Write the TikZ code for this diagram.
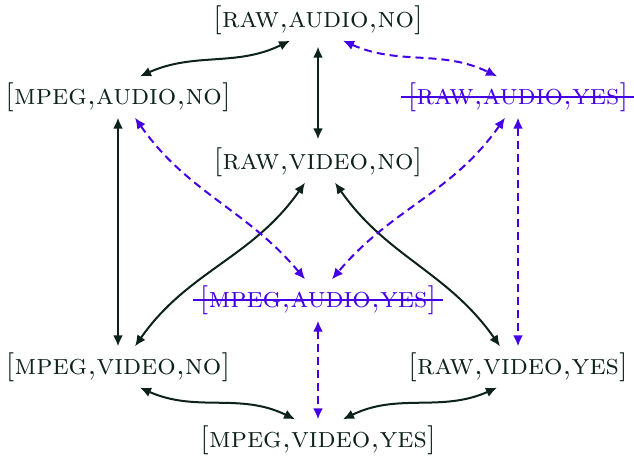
\documentclass[tikz,border=0pt]{standalone}
\usepackage{fontspec}
\usetikzlibrary{arrows.meta}
\definecolor{dk}{HTML}{0D2218}
\definecolor{pu}{HTML}{4400E6}
\tikzset{
  st/.style={font=\fontsize{29}{34}\selectfont\scshape, text=dk, inner sep=6pt},
  sy/.style={font=\fontsize{29}{34}\selectfont\scshape, text=pu, inner sep=6pt},
  solidedge/.style={draw=dk, line width=2pt, {Latex[length=11pt,width=10pt]}-{Latex[length=11pt,width=10pt]}},
  dashedge/.style={draw=pu, line width=2pt, dash pattern=on 8pt off 5pt, {Latex[length=11pt,width=10pt]}-{Latex[length=11pt,width=10pt]}},
  strike/.style={draw=pu, line width=1.6pt}
}
\begin{document}
\begin{tikzpicture}[x=1pt,y=1pt]
\useasboundingbox (0,0) rectangle (634,456);
\node[st] (RAN) at (318,436) {[raw,audio,no]};
\node[st] (MAN) at (118,359) {[mpeg,audio,no]};
\node[sy] (RAY) at (518,359) {[raw,audio,yes]};
\node[st] (RVN) at (318,294) {[raw,video,no]};
\node[sy] (MAY) at (318,156) {[mpeg,audio,yes]};
\node[st] (MVN) at (118,89) {[mpeg,video,no]};
\node[st] (RVY) at (518,89) {[raw,video,yes]};
\node[st] (MVY) at (318,16) {[mpeg,video,yes]};
\draw[strike] (RAY.west) -- (RAY.east);
\draw[strike] (MAY.west) -- (MAY.east);
% solid
\draw[solidedge] ([xshift=22pt]MAN.north) to[out=24,in=-154] ([xshift=-28pt]RAN.south);
\draw[solidedge, shorten <=6pt, shorten >=2pt] (RAN) -- (RVN);
\draw[solidedge] (MAN) -- (MVN);
\draw[solidedge] ([xshift=17pt]MVN.north) to[out=55,in=-125] ([xshift=-13pt]RVN.south);
\draw[solidedge] ([xshift=-18pt]RVY.north) to[out=125,in=-55] ([xshift=17pt]RVN.south);
\draw[solidedge] ([xshift=22pt]MVN.south) to[out=-24,in=154] ([xshift=-23pt]MVY.north);
\draw[solidedge] ([xshift=-21pt]RVY.south) to[out=-156,in=26] ([xshift=25pt]MVY.north);
% dashed
\draw[dashedge] ([xshift=25pt]RAN.south) to[out=-24,in=154] ([xshift=-21pt]RAY.north);
\draw[dashedge] ([xshift=17pt]MAN.south) to[out=-55,in=130] ([xshift=-13pt]MAY.north);
\draw[dashedge] ([xshift=-13pt]RAY.south) to[out=-125,in=50] ([xshift=14pt]MAY.north);
\draw[dashedge] (RAY) -- (RVY);
\draw[dashedge] (MAY) -- (MVY);
\end{tikzpicture}
\end{document}
